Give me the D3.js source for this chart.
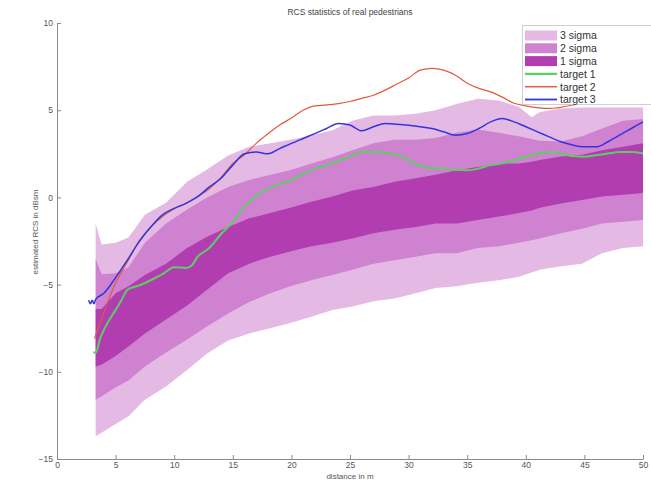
<!DOCTYPE html>
<html><head><meta charset="utf-8">
<script src="https://cdn.jsdelivr.net/npm/d3@7"></script>
<style>body{margin:0;background:#fff}</style>
</head><body><svg id="chart" width="651" height="482"></svg>
<script>
// ---- data ----
const bandDistance = [3.3, 3.8, 5, 6.1, 7.5, 9.3, 11.1, 12.8, 14.6, 16.4, 18.2, 19.9, 21.7, 23.5, 25.2, 27, 28.8, 30.6, 32.3, 34.1, 35.9, 37.7, 39.4, 40.5, 41.2, 43, 44.8, 46.5, 48.3, 50];
const sigma3Upper = [-1.5, -2.7, -2.6, -2.3, -1.0, -0.3, 0.9, 1.6, 2.4, 2.9, 3.1, 3.3, 3.55, 3.85, 4.4, 4.7, 4.7, 4.8, 5.0, 5.35, 5.65, 5.55, 5.2, 4.6, 4.9, 5.1, 5.15, 5.15, 5.15, 5.15];
const sigma2Upper = [-3.5, -4.4, -4.35, -4.0, -2.6, -1.5, -0.7, 0.0, 0.6, 1.0, 1.3, 1.55, 1.95, 2.3, 2.7, 3.1, 3.3, 3.3, 3.4, 3.7, 3.9, 3.7, 3.5, 3.35, 3.25, 3.2, 3.5, 3.95, 4.4, 4.5];
const sigma1Upper = [-6.4, -6.4, -5.5, -5.1, -4.45, -3.8, -2.9, -2.25, -1.7, -1.2, -0.9, -0.6, -0.25, 0.05, 0.4, 0.6, 0.9, 1.1, 1.3, 1.55, 1.75, 1.95, 1.95, 2.05, 2.15, 2.35, 2.45, 2.7, 2.9, 3.1];
const sigma1Lower = [-9.7, -9.6, -9.1, -8.55, -7.8, -7.0, -6.2, -5.3, -4.35, -3.8, -3.4, -3.1, -2.8, -2.6, -2.35, -2.05, -1.85, -1.7, -1.5, -1.5, -1.3, -1.1, -0.9, -0.75, -0.6, -0.35, -0.15, 0.05, 0.15, 0.25];
const sigma2Lower = [-11.6, -11.4, -10.9, -10.5, -9.7, -8.9, -8.15, -7.4, -6.65, -6.0, -5.5, -5.1, -4.75, -4.45, -4.15, -3.8, -3.6, -3.4, -3.2, -3.2, -2.9, -2.8, -2.6, -2.45, -2.35, -2.05, -1.8, -1.5, -1.4, -1.3];
const sigma3Lower = [-13.7, -13.5, -13.0, -12.55, -11.6, -10.85, -9.9, -8.95, -8.2, -7.8, -7.5, -7.2, -6.85, -6.45, -6.25, -5.95, -5.8, -5.5, -5.2, -5.1, -4.9, -4.75, -4.55, -4.3, -4.15, -3.95, -3.8, -3.2, -2.9, -2.8];

const target1Distance = [3.1, 3.3, 3.7, 4, 5, 5.5, 6, 6.5, 7, 8, 9, 10, 11, 11.5, 12, 13, 14, 15, 16, 17, 18, 19, 20, 21, 22, 23, 24, 25, 26, 27, 28, 29, 30, 31, 32, 33, 34, 35, 36, 37, 38, 39, 40, 41, 42, 43, 44, 45, 46, 47, 48, 49, 50];
const target1Rcs = [-8.9, -8.9, -8.05, -7.6, -6.45, -5.9, -5.3, -5.15, -5.05, -4.75, -4.4, -4.0, -4.05, -3.9, -3.4, -2.9, -2.1, -1.4, -0.5, 0.1, 0.5, 0.75, 1.0, 1.35, 1.65, 1.85, 2.1, 2.35, 2.6, 2.62, 2.58, 2.45, 2.15, 1.8, 1.68, 1.66, 1.58, 1.56, 1.66, 1.85, 1.95, 2.14, 2.33, 2.5, 2.6, 2.52, 2.37, 2.33, 2.42, 2.52, 2.6, 2.6, 2.52];

const target2Distance = [3.2, 4, 5, 6, 7, 8, 9, 10, 11, 12, 13, 14, 15, 16, 17, 18, 19, 20, 21, 22, 23, 24, 25, 26, 27, 28, 29, 30, 31, 32, 33, 34, 35, 36, 37, 38, 39, 40, 42, 44, 46, 48, 50];
const target2Rcs = [-8.1, -6.6, -4.9, -3.7, -2.5, -1.7, -1.1, -0.65, -0.35, 0.05, 0.5, 1.15, 1.95, 2.45, 3.1, 3.65, 4.15, 4.55, 5.0, 5.25, 5.3, 5.38, 5.5, 5.68, 5.86, 6.15, 6.5, 6.85, 7.3, 7.4, 7.3, 7.0, 6.55, 6.25, 6.05, 5.75, 5.4, 5.25, 5.1, 5.3, 5.7, 6.2, 6.7];

const target3Distance = [2.7, 2.85, 3.0, 3.15, 3.3, 4, 5, 6, 7, 8, 9, 10, 11, 12, 13, 14, 15, 16, 17, 18, 19, 20, 21, 22, 23, 24, 25, 26, 27, 28, 29, 30, 31, 32, 33, 34, 35, 36, 37, 38, 39, 40, 41, 42, 43, 44, 45, 46, 47, 48, 49, 50];
const target3Rcs = [-5.9, -6.1, -5.9, -6.1, -5.85, -5.5, -4.6, -3.6, -2.55, -1.7, -1.0, -0.63, -0.34, 0.04, 0.6, 1.1, 1.85, 2.5, 2.6, 2.5, 2.8, 3.1, 3.38, 3.66, 3.95, 4.24, 4.15, 3.82, 4.05, 4.24, 4.2, 4.14, 4.05, 3.95, 3.76, 3.57, 3.66, 3.95, 4.33, 4.52, 4.33, 4.05, 3.76, 3.47, 3.19, 3.0, 2.9, 2.9, 3.19, 3.57, 3.95, 4.33];

const xTicks = [0, 5, 10, 15, 20, 25, 30, 35, 40, 45, 50];
const yTicks = [-15, -10, -5, 0, 5, 10];
const legendLabels = ["3 sigma", "2 sigma", "1 sigma", "target 1", "target 2", "target 3"];
const chartTitle = "RCS statistics of real pedestrians";
const xLabel = "distance in m";
const yLabel = "estimated RCS in dBsm";

// ---- drawing ----
const svg = d3.select("#chart");
const x = d3.scaleLinear().domain([0, 50]).range([57, 643]);
const y = d3.scaleLinear().domain([-15, 10]).range([459, 23]);
const font = "Liberation Sans, Arial, sans-serif";

const bandColors = ["#e4bae4", "#cf82cf", "#b13db1"];
const lineColors = ["#5ccf63", "#e2593f", "#3434dd"];
const lineWidths = [2, 1.2, 1.5];

const bands = [[sigma3Lower, sigma3Upper], [sigma2Lower, sigma2Upper], [sigma1Lower, sigma1Upper]];
bands.forEach(([lo, hi], i) => {
  const area = d3.area()
    .x((d, j) => x(bandDistance[j]))
    .y0((d, j) => y(lo[j]))
    .y1((d, j) => y(hi[j]));
  svg.append("path").attr("d", area(bandDistance)).attr("fill", bandColors[i]);
});

const targets = [[target1Distance, target1Rcs], [target2Distance, target2Rcs], [target3Distance, target3Rcs]];
targets.forEach(([xs, ys], i) => {
  const line = d3.line().x((d, j) => x(xs[j])).y((d, j) => y(ys[j])).curve(d3.curveMonotoneX);
  svg.append("path").attr("d", line(xs)).attr("fill", "none")
    .attr("stroke", lineColors[i]).attr("stroke-width", lineWidths[i]).attr("stroke-linejoin", "round");
});

// axes
const axisColor = "#8a8a8a";
const xAxis = svg.append("g").attr("transform", `translate(0,${y(-15)})`)
  .call(d3.axisBottom(x).tickValues(xTicks).tickSizeInner(-4).tickSizeOuter(0).tickPadding(3));
const yAxis = svg.append("g").attr("transform", `translate(${x(0)},0)`)
  .call(d3.axisLeft(y).tickValues(yTicks).tickSizeInner(-4).tickSizeOuter(0).tickPadding(4));
[xAxis, yAxis].forEach(g => {
  g.select(".domain").attr("stroke", axisColor);
  g.selectAll(".tick line").attr("stroke", axisColor);
  g.selectAll(".tick text").attr("fill", "#555").attr("font-size", 8.5).attr("font-family", font);
});

svg.append("text").attr("x", 350).attr("y", 15).attr("text-anchor", "middle")
  .attr("font-size", 8.5).attr("font-family", font).attr("fill", "#444").text(chartTitle);
svg.append("text").attr("x", 350).attr("y", 479).attr("text-anchor", "middle")
  .attr("font-size", 8).attr("font-family", font).attr("fill", "#555").text(xLabel);
svg.append("text").attr("transform", "translate(38,232) rotate(-90)").attr("text-anchor", "middle")
  .attr("font-size", 8).attr("font-family", font).attr("fill", "#555").text(yLabel);

// legend
const lg = svg.append("g");
lg.append("rect").attr("x", 522.5).attr("y", 25.5).attr("width", 140).attr("height", 79)
  .attr("fill", "#fff").attr("stroke", "#d0d0d0");
legendLabels.forEach((lab, i) => {
  const cy = 35.5 + i * 12.8;
  if (i < 3) {
    lg.append("rect").attr("x", 525).attr("y", cy - 5).attr("width", 32).attr("height", 10).attr("fill", bandColors[i]);
  } else {
    lg.append("line").attr("x1", 525).attr("x2", 557).attr("y1", cy).attr("y2", cy)
      .attr("stroke", lineColors[i - 3]).attr("stroke-width", lineWidths[i - 3] + 0.3);
  }
  lg.append("text").attr("x", 560).attr("y", cy + 3.8).attr("font-size", 10.5)
    .attr("font-family", font).attr("fill", "#333").text(lab);
});
</script></body></html>
